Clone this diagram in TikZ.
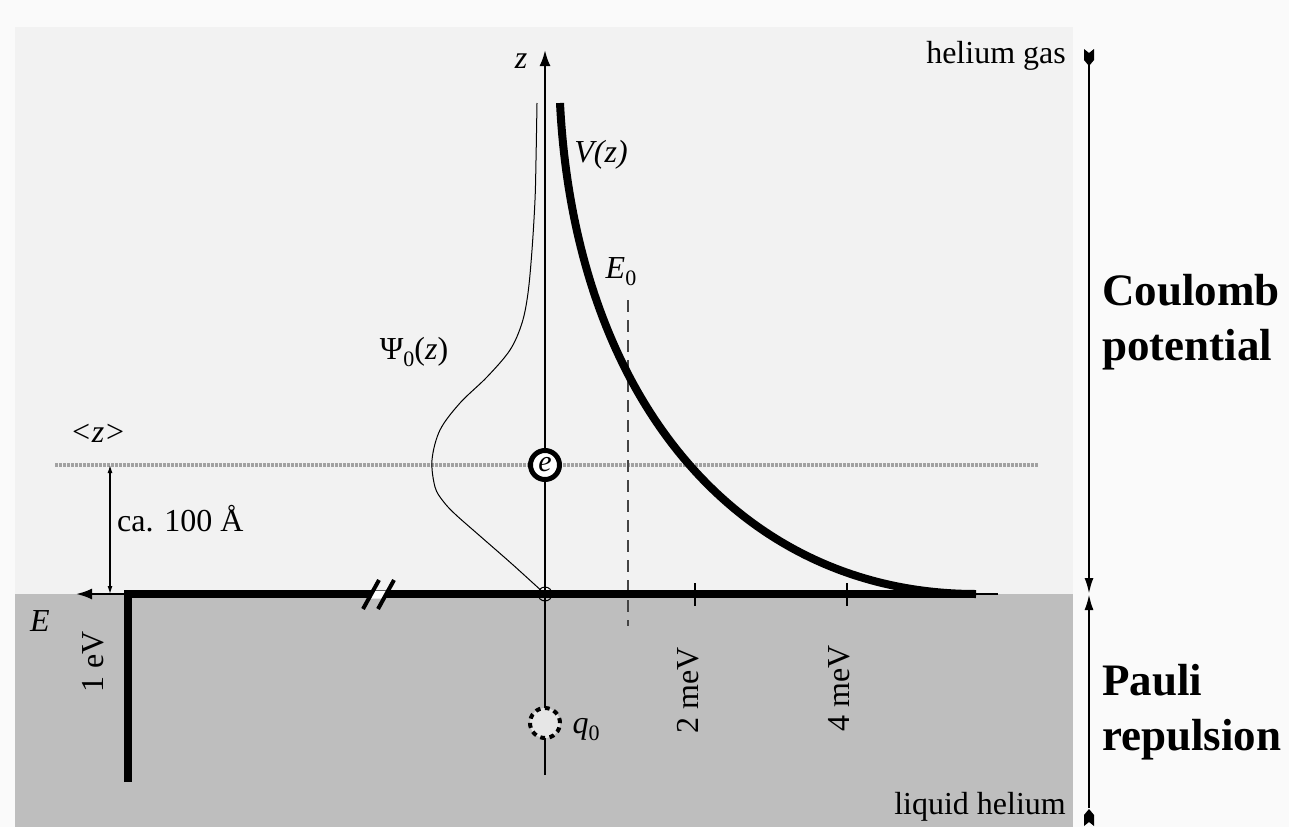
\documentclass[tikz,border=0pt]{standalone}
\usepackage{fontspec}
\setmainfont{Liberation Serif}
\usetikzlibrary{arrows.meta}
\definecolor{pagebg}{HTML}{FAFAFA}
\definecolor{gasbg}{HTML}{F2F2F2}
\definecolor{liqbg}{HTML}{BEBEBE}
\definecolor{dotgray}{HTML}{A2A2A2}
\definecolor{dashgray}{HTML}{444444}
\definecolor{qfill}{HTML}{E6E6E6}
\newcommand{\mysub}[1]{\raisebox{-0.22em}{\fontsize{22}{22}\selectfont #1}}
\begin{document}
\begin{tikzpicture}[x=1pt,y=-1pt,
  lbl/.style={inner sep=0pt, font=\fontsize{32}{38}\selectfont},
  big/.style={inner sep=0pt, font=\fontsize{45}{55}\selectfont\bfseries, align=left},
  heavy/.style={line width=8pt},
  axisline/.style={line width=2.3pt},
  thinline/.style={line width=1.2pt},
  tickline/.style={line width=2pt},
  >={Latex[length=16pt,width=11pt]}]
\useasboundingbox (0,0) rectangle (1289,827);
% backgrounds
\fill[pagebg] (0,0) rectangle (1289,827);
\fill[gasbg] (15,27) rectangle (1073,594);
\fill[liqbg] (15,594) rectangle (1073,827);

% mean distance line
\coordinate (mL) at (55,465);
\coordinate (mR) at (1038,465);
\draw[dotgray, line width=4.5pt, dash pattern=on 2.5pt off 1.5pt] (mL) -- (mR);

% E0 dashed
\coordinate (E0t) at (628,300);
\coordinate (E0b) at (628,626);
\draw[dashgray, line width=1.8pt, dash pattern=on 12pt off 8pt] (E0t) -- (E0b);
\node[lbl] (E0lab) at (621,272) {\textit{E}\mysub{0}};

% z axis
\coordinate (zb) at (545,775);
\coordinate (zt) at (545,50);
\draw[axisline,->] (zb) -- (zt);
\node[lbl] (zlab) at (521,61) {\textit{z}};

% wave function
\draw[line width=1pt] plot[smooth, tension=0.55] coordinates {
 (537,103) (536,160) (535,200) (532,250) (528,293) (522,323) (510,350)
 (487,377) (460,403) (440,430) (432,460) (435,487) (443,501) (455,514)
 (480,536) (512,564) (545,594)};

% E axis (thin)
\coordinate (Ear) at (998,594);
\coordinate (Eal) at (76,594);
\draw[axisline,->] (Ear) -- (Eal);

% potential
\coordinate (corner) at (128,594);
\coordinate (wallbot) at (128,782);
\coordinate (Vend) at (976,594);
\coordinate (Vtop) at (560,103);
\draw[heavy, line join=miter] (wallbot) -- (corner) -- (Vend);
\draw[heavy] (Vtop) .. controls (575,400) and (740,594) .. (Vend);

% break mark
\coordinate (b1a) at (363,609);
\coordinate (b1b) at (379,580);
\coordinate (b2a) at (378,609);
\coordinate (b2b) at (394,580);
\fill[white] (369,598.5) -- (373.5,590.5) -- (388.5,590.5) -- (384,598.5) -- cycle;
\draw[line width=4pt] (b1a) -- (b1b);
\draw[line width=4pt] (b2a) -- (b2b);

% ticks
\coordinate (t2a) at (695,583); \coordinate (t2b) at (695,606);
\coordinate (t4a) at (847,583); \coordinate (t4b) at (847,606);
\draw[tickline] (t2a) -- (t2b);
\draw[tickline] (t4a) -- (t4b);
\node[lbl, rotate=90] (l2) at (688,690) {2 meV};
\node[lbl, rotate=90] (l4) at (839,688) {4 meV};
\node[lbl, rotate=90] (l1) at (93,662) {1 eV};

% origin
\node[circle, draw, line width=1pt, minimum size=14pt, inner sep=0pt] (O) at (545,594) {};

% electron and image charge
\node[circle, draw, fill=white, line width=5pt, minimum size=29pt, inner sep=0pt,
      font=\fontsize{30}{30}\selectfont\itshape] (e) at (545,465) {e};
\node[circle, draw, fill=qfill, line width=4pt, dash pattern=on 5pt off 4.4pt,
      minimum size=30pt, inner sep=0pt] (q) at (545,723) {};
\node[lbl] (qlab) at (586,730) {\textit{q}\mysub{0}};

% distance marker
\coordinate (dt) at (110,465);
\coordinate (db) at (110,594);
\draw[thinline, {Latex[length=8pt,width=5pt]}-{Latex[length=8pt,width=5pt]}] (dt) -- (db);
\node[lbl, anchor=west] (ca) at (117,519) {ca. 100 Å};
\node[lbl] (zm) at (98,433) {\textit{<z>}};
\node[lbl] (Elab) at (40,621) {\textit{E}};

% curve labels
\node[lbl] (Vlab) at (601,155) {\textit{V(z)}};
\node[lbl] (Psilab) at (414,352) {Ψ\mysub{0}(\textit{z})};

% phase labels
\node[lbl, anchor=base east] (gas) at (1066,63) {helium gas};
\node[lbl, anchor=base east] (liq) at (1066,814) {liquid helium};

% right bracket
\coordinate (bt) at (1089,64);
\coordinate (mid) at (1089,594);
\coordinate (bb) at (1089,808);
\draw[axisline, -{Latex[length=16pt,width=9pt]}] (bt) -- (mid);
\draw[axisline, -{Latex[length=16pt,width=9pt]}] (bb) -- (mid);
\fill (1084,49) -- (1089,53) -- (1094,49) -- (1094,60) -- (1089,66) -- (1084,60) -- cycle;
\fill (1084,826) -- (1089,822) -- (1094,826) -- (1094,815) -- (1089,809) -- (1084,815) -- cycle;

\node[big, anchor=north west] (coul) at (1102,274) {Coulomb\\potential};
\node[big, anchor=north west] (pauli) at (1102,664) {Pauli\\repulsion};
\end{tikzpicture}
\end{document}
